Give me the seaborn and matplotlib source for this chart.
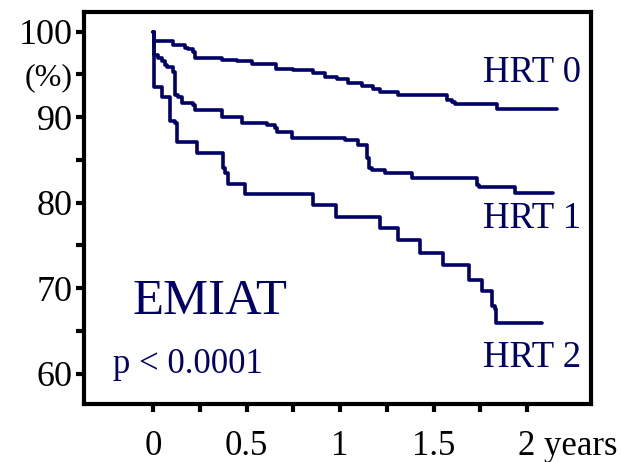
import numpy as np
import pandas as pd
import matplotlib
matplotlib.use("Agg")
import matplotlib.pyplot as plt
import matplotlib.transforms as mtransforms
import seaborn as sns

# ---- data (Kaplan-Meier step points: value holds from time t onward) ----
hrt0_t = [0, 0.003, 0.107, 0.171, 0.187, 0.214, 0.225, 0.370, 0.449, 0.529, 0.655,
          0.748, 0.855, 0.920, 0.984, 1.043, 1.118, 1.176, 1.214, 1.310, 1.572,
          1.600, 1.615, 1.840, 2.160]
hrt0_s = [100, 98.9, 98.4, 98.1, 98.0, 97.6, 96.9, 96.7, 96.5, 96.2, 95.65,
          95.5, 95.1, 94.7, 94.4, 94.0, 93.6, 93.3, 92.9, 92.6, 92.0,
          91.8, 91.5, 90.9, 90.9]

hrt1_t = [0, 0.003, 0.027, 0.048, 0.064, 0.075, 0.107, 0.115, 0.118, 0.134, 0.155,
          0.214, 0.225, 0.369, 0.476, 0.610, 0.652, 0.663, 0.743, 1.027, 1.096,
          1.144, 1.155, 1.171, 1.241, 1.385, 1.733, 1.745, 1.936, 2.139]
hrt1_s = [100, 97.3, 96.9, 96.5, 96.1, 95.8, 95.3, 94.0, 92.6, 92.4, 91.6,
          91.4, 90.8, 90.0, 89.3, 89.1, 88.7, 88.3, 87.5, 87.3, 86.7,
          85.2, 84.0, 83.8, 83.4, 82.9, 82.0, 81.8, 81.1, 81.1]

hrt2_t = [0, 0.004, 0.048, 0.091, 0.118, 0.128, 0.235, 0.374, 0.385, 0.401, 0.492,
          0.856, 0.979, 1.214, 1.310, 1.428, 1.551, 1.690, 1.759, 1.813, 1.829,
          1.834, 2.080]
hrt2_s = [100, 93.5, 92.4, 89.5, 89.3, 87.1, 85.8, 84.0, 83.4, 82.2, 81.0,
          79.7, 78.3, 77.0, 75.6, 74.1, 72.7, 71.0, 69.6, 67.9, 67.6,
          65.9, 65.9]

group_names = ["HRT 0", "HRT 1", "HRT 2"]
x_ticks = [0, 0.25, 0.5, 0.75, 1, 1.25, 1.5, 1.75, 2]
x_ticklabels = ["0", "", "0.5", "", "1", "", "1.5", "", "2 years"]
y_ticks = [60, 65, 70, 75, 80, 85, 90, 95, 100]
y_ticklabels = ["60", "", "70", "", "80", "", "90", "(%)", "100"]
title_text = "EMIAT"
p_text = "p < 0.0001"

df = pd.concat([
    pd.DataFrame({"t": hrt0_t, "s": hrt0_s, "g": group_names[0]}),
    pd.DataFrame({"t": hrt1_t, "s": hrt1_s, "g": group_names[1]}),
    pd.DataFrame({"t": hrt2_t, "s": hrt2_s, "g": group_names[2]}),
], ignore_index=True)

sns.set_theme(style="white")
plt.rcParams["font.family"] = ["Liberation Serif", "DejaVu Serif"]

navy = "#000066"
W, H = 621, 462
fig = plt.figure(figsize=(W / 100, H / 100), dpi=100)
# axes box in pixels: left 84, right 591, top 11.5, bottom 403.5
ax = fig.add_axes([84 / W, 1 - 403.5 / H, (591 - 84) / W, (403.5 - 11.5) / H])

sns.lineplot(data=df, x="t", y="s", units="g", estimator=None,
             drawstyle="steps-post", color=navy, linewidth=2.6, ax=ax,
             legend=False)

ax.set_xlim(-0.369, 2.342)
ax.set_ylim(56.5, 102.34)
ax.set_xlabel("")
ax.set_ylabel("")

for sp in ax.spines.values():
    sp.set_visible(True)
    sp.set_color("black")
    sp.set_linewidth(3)

ax.set_yticks(y_ticks)
ax.set_yticklabels(y_ticklabels)
ax.set_xticks(x_ticks)
ax.set_xticklabels(x_ticklabels)
ax.tick_params(axis="y", direction="out", length=6, width=3, pad=2,
               labelsize=26, colors="black", left=True)
ax.tick_params(axis="x", direction="out", length=6, width=3, pad=13,
               labelsize=25, colors="black", bottom=True)
for lab in ax.get_yticklabels():
    if lab.get_text() == "(%)":
        lab.set_fontsize(23)
for lab in ax.get_xticklabels():
    if lab.get_text() == "2 years":
        lab.set_ha("left")
        off = mtransforms.ScaledTranslation(-9 / 100, 0, fig.dpi_scale_trans)
        lab.set_transform(lab.get_transform() + off)

ax.grid(False)

ax.text((132 - 84) / 507, (403.5 - 314) / 392, title_text, transform=ax.transAxes,
        fontsize=36.5, color=navy, ha="left", va="baseline")
ax.text((113 - 84) / 507, (403.5 - 373) / 392, p_text, transform=ax.transAxes,
        fontsize=25, color=navy, ha="left", va="baseline")
for name, yb in zip(group_names, [82, 228, 367]):
    ax.text((483 - 84) / 507, (403.5 - yb) / 392, name, transform=ax.transAxes,
            fontsize=26.5, color=navy, ha="left", va="baseline")

fig.savefig("out.png", dpi=100)
